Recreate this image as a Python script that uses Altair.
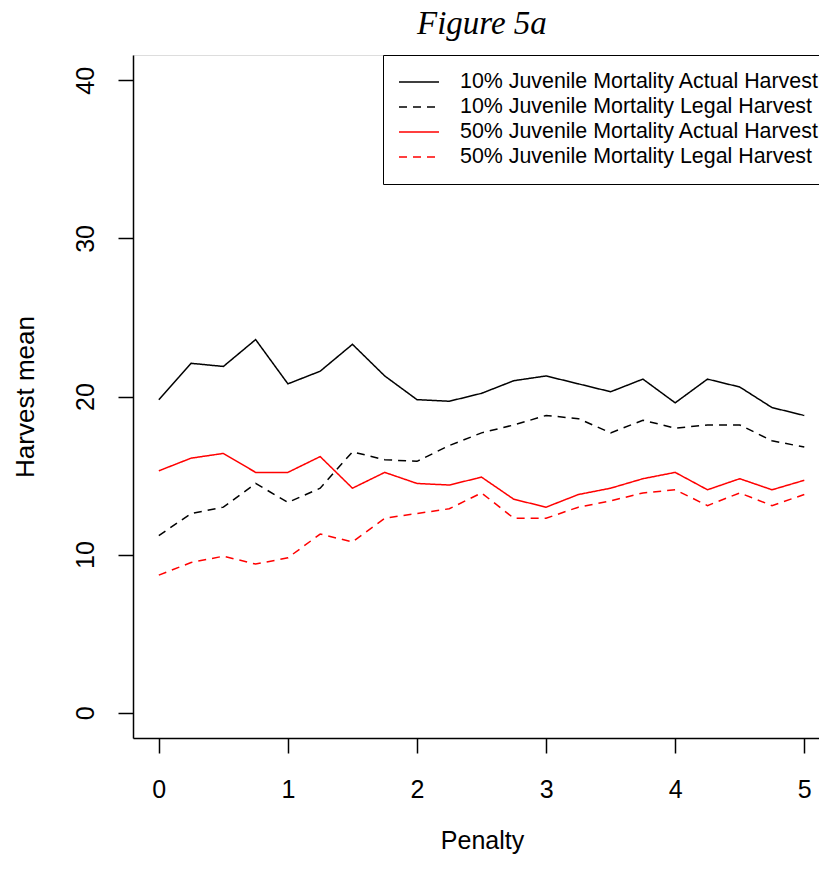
import altair as alt
import pandas as pd

penalty = [0, 0.25, 0.5, 0.75, 1, 1.25, 1.5, 1.75, 2, 2.25, 2.5,
           2.75, 3, 3.25, 3.5, 3.75, 4, 4.25, 4.5, 4.75, 5]

actual10 = [19.8, 22.1, 21.9, 23.6, 20.8, 21.6, 23.3, 21.3, 19.8, 19.7, 20.2,
            21.0, 21.3, 20.8, 20.3, 21.1, 19.6, 21.1, 20.6, 19.3, 18.8]
legal10 = [11.2, 12.6, 13.0, 14.5, 13.3, 14.2, 16.5, 16.0, 15.9, 16.9, 17.7,
           18.2, 18.8, 18.6, 17.7, 18.5, 18.0, 18.2, 18.2, 17.2, 16.8]
actual50 = [15.3, 16.1, 16.4, 15.2, 15.2, 16.2, 14.2, 15.2, 14.5, 14.4, 14.9,
            13.5, 13.0, 13.8, 14.2, 14.8, 15.2, 14.1, 14.8, 14.1, 14.7]
legal50 = [8.7, 9.5, 9.9, 9.4, 9.8, 11.3, 10.8, 12.3, 12.6, 12.9, 13.9,
           12.3, 12.3, 13.0, 13.4, 13.9, 14.1, 13.1, 13.9, 13.1, 13.8]

series_names = [
    "10% Juvenile Mortality Actual Harvest",
    "10% Juvenile Mortality Legal Harvest",
    "50% Juvenile Mortality Actual Harvest",
    "50% Juvenile Mortality Legal Harvest",
]
series_colors = ["#000000", "#000000", "#ff0000", "#ff0000"]
series_dash = [[1, 0], [8, 6], [1, 0], [8, 6]]

x_ticks = [0, 1, 2, 3, 4, 5]
y_ticks = [0, 10, 20, 30, 40]

rows = []
for name, vals in zip(series_names, [actual10, legal10, actual50, legal50]):
    for p, v in zip(penalty, vals):
        rows.append({"Penalty": p, "Harvest": v, "Series": name})
df = pd.DataFrame(rows)

W, H = 686, 683

legend = alt.Legend(
    title=None, orient="none", legendX=250, legendY=0,
    symbolType="M-2,0H2", symbolSize=400, symbolStrokeWidth=1.5, symbolOffset=9,
    labelFont="Liberation Sans", labelFontSize=21.4, labelColor="black",
    labelLimit=600, labelOffset=30, padding=16, rowPadding=3,
    strokeColor="black", fillColor="white", cornerRadius=0,
)

chart = alt.Chart(df).mark_line(strokeWidth=1.5, clip=True).encode(
    x=alt.X("Penalty:Q",
            scale=alt.Scale(domain=[-0.2, 5.114], nice=False, zero=False),
            axis=alt.Axis(values=x_ticks, format="d", title="Penalty", grid=False,
                          labelFont="Liberation Sans", labelFontSize=25, labelColor="black",
                          labelBaseline="alphabetic", labelPadding=44,
                          tickSize=15, tickWidth=1.5, tickColor="black",
                          domainColor="black", domainWidth=1.5,
                          titleFont="Liberation Sans", titleFontSize=25,
                          titleFontWeight="normal", titleColor="black",
                          titleX=349, titleY=110, titleBaseline="alphabetic")),
    y=alt.Y("Harvest:Q",
            scale=alt.Scale(domain=[-1.6, 41.6], nice=False, zero=False),
            axis=alt.Axis(values=y_ticks, title="Harvest mean", grid=False,
                          labelFont="Liberation Sans", labelFontSize=25, labelColor="black",
                          labelAngle=270, labelAlign="center", labelBaseline="alphabetic",
                          labelPadding=25,
                          tickSize=15, tickWidth=1.5, tickColor="black",
                          domainColor="black", domainWidth=1.5,
                          titleFont="Liberation Sans", titleFontSize=26,
                          titleFontWeight="normal", titleColor="black",
                          titleAngle=270, titleAlign="center", titleBaseline="alphabetic",
                          titleX=-100, titleY=H / 2)),
    color=alt.Color("Series:N", scale=alt.Scale(domain=series_names, range=series_colors),
                    legend=legend),
    strokeDash=alt.StrokeDash("Series:N", scale=alt.Scale(domain=series_names, range=series_dash),
                              legend=legend),
).properties(
    width=W, height=H,
    title=alt.TitleParams("Figure 5a", font="Liberation Serif", fontStyle="italic",
                          fontSize=33, fontWeight="normal", color="black",
                          anchor="start", baseline="top", offset=14, dx=284,
                          frame="group"),
    autosize=alt.AutoSizeParams(type="none"),
    padding={"left": 125, "top": 47, "right": 0, "bottom": 116},
).configure_view(
    stroke="black", strokeWidth=1.5, strokeDash=[W, H, W + H + 10, 1]
).configure(background="white")

chart.save("out.html", embed_options={"renderer": "svg", "actions": False})
